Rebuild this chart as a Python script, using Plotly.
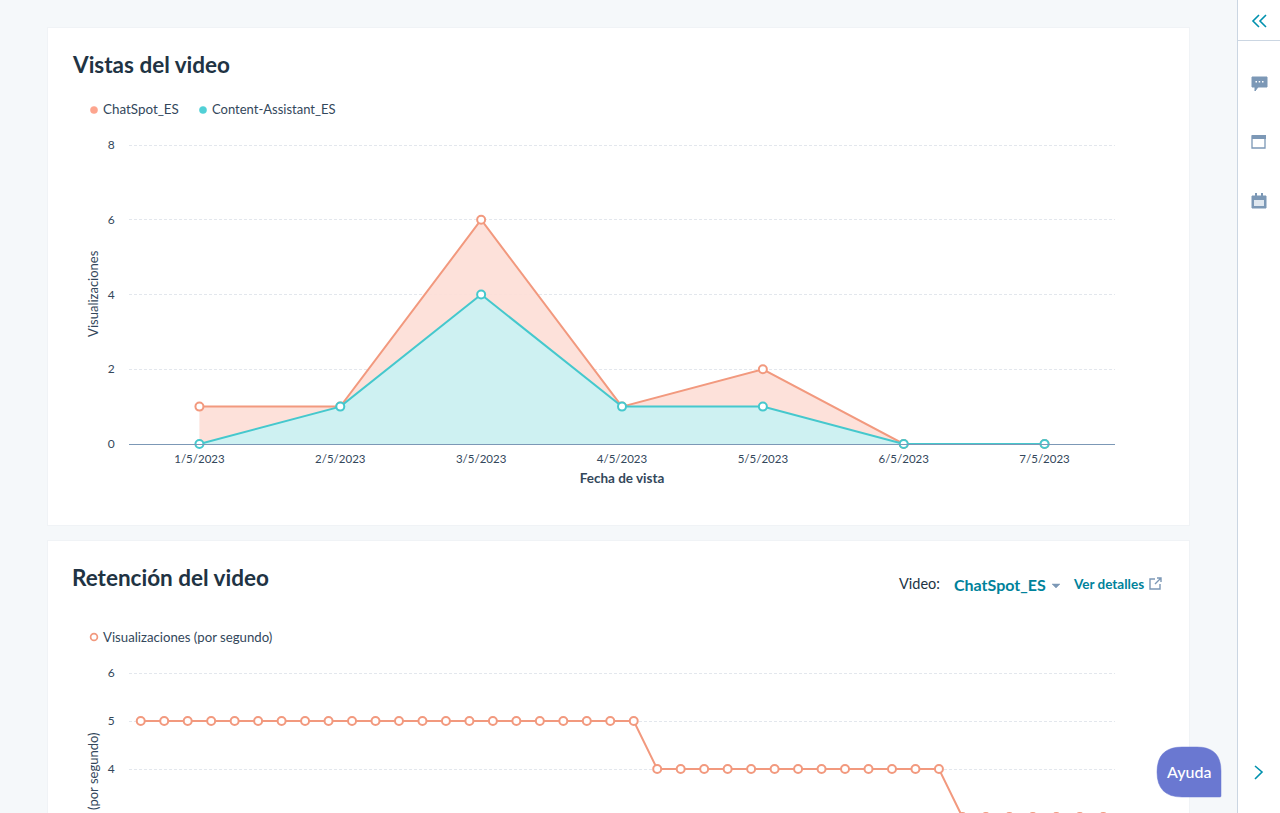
"""Panel de vistas y retencion del video."""

import plotly.graph_objects as go

# Datos de "Vistas del video"
FECHAS = ["1/5/2023", "2/5/2023", "3/5/2023", "4/5/2023", "5/5/2023", "6/5/2023", "7/5/2023"]
CHATSPOT = [1, 1, 6, 1, 2, 0, 0]
CONTENT = [0, 1, 4, 1, 1, 0, 0]
Y_TICKS_VISTAS = [0, 2, 4, 6, 8]

# Datos de "Retencion del video" (la ventana corta el resto del grafico)
SEGUNDOS = [
    "0", "1", "2", "3", "4", "5", "6", "7", "8", "9", "10", "11", "12", "13",
    "14", "15", "16", "17", "18", "19", "20", "21", "22", "23", "24", "25", "26", "27",
    "28", "29", "30", "31", "32", "33", "34", "35", "36", "37", "38", "39", "40", "41",
]
RETENCION = [
    5, 5, 5, 5, 5, 5, 5, 5, 5, 5, 5, 5, 5, 5,
    5, 5, 5, 5, 5, 5, 5, 5, 4, 4, 4, 4, 4, 4,
    4, 4, 4, 4, 4, 4, 4, 3, 3, 3, 3, 3, 3, 3,
]
Y_TICKS_RETENCION = [0, 1, 2, 3, 4, 5, 6]

W = 1280
H = 1010
FONT = "Lato"
INK = "#33475b"
TITLE_INK = "#213343"
SALMON = "#f2997e"
TEAL = "#45c8cd"
LINK = "#00829b"
ICON = "#7c98b6"


def px(x):
    return x / W


def py(y):
    return 1 - y / H


def path(*cmds):
    # Cada comando: (letra, x, y, ...) en pixeles de la pagina
    out = []
    for c in cmds:
        vals = c[1:]
        pares = [f"{px(vals[i])},{py(vals[i + 1])}" for i in range(0, len(vals), 2)]
        out.append(c[0] + " ".join(pares))
    return " ".join(out)


def rect(x0, y0, x1, y1, fill, line=None, layer="below"):
    return dict(
        type="rect", xref="paper", yref="paper", layer=layer,
        x0=px(x0), x1=px(x1), y0=py(y0), y1=py(y1),
        fillcolor=fill, line=dict(color=line or fill, width=1 if line else 0),
    )


def trazo(d, color, width=1.6, fill=None, layer="above"):
    return dict(
        type="path", xref="paper", yref="paper", layer=layer, path=d,
        line=dict(color=color, width=width), fillcolor=fill or "rgba(0,0,0,0)",
    )


def circulo(cx, cy, r, fill, line, width=1.5):
    return dict(
        type="circle", xref="paper", yref="paper", layer="above",
        x0=px(cx - r), x1=px(cx + r), y0=py(cy - r), y1=py(cy + r),
        fillcolor=fill, line=dict(color=line, width=width),
    )


def texto(x, y, s, size=12, color=INK, weight=400, anchor="left", family=FONT):
    return dict(
        xref="paper", yref="paper", x=px(x), y=py(y), text=s, showarrow=False,
        xanchor=anchor, yanchor="middle", borderpad=0, borderwidth=0,
        font=dict(family=family, size=size, color=color, weight=weight),
    )


def eje_y(ticks, domain, rng, title, anchor):
    return dict(
        domain=domain, range=rng, tickvals=ticks, anchor=anchor, fixedrange=True,
        automargin=False,
        showgrid=True, gridcolor="#e3e7ed", griddash="3px,2px", gridwidth=1,
        zeroline=False, showline=False,
        ticks="outside", ticklen=11, tickcolor="rgba(0,0,0,0)",
        tickfont=dict(family=FONT, size=12, color=INK),
        title=dict(text=title, standoff=6, font=dict(family=FONT, size=13, color=INK)),
    )


fig = go.Figure()

fig.add_trace(go.Scatter(
    x=FECHAS, y=CHATSPOT, name="ChatSpot_ES", mode="lines+markers", cliponaxis=False,
    line=dict(color=SALMON, width=2), fill="tozeroy", fillcolor="rgba(253,222,214,0.9)",
    marker=dict(size=8, color="white", line=dict(color=SALMON, width=2)),
))
fig.add_trace(go.Scatter(
    x=FECHAS, y=CONTENT, name="Content-Assistant_ES", mode="lines+markers", cliponaxis=False,
    line=dict(color=TEAL, width=2), fill="tozeroy", fillcolor="rgba(203,241,243,0.95)",
    marker=dict(size=8, color="white", line=dict(color=TEAL, width=2)),
))
fig.add_trace(go.Scatter(
    x=SEGUNDOS, y=RETENCION, name="Visualizaciones (por segundo)", mode="lines+markers",
    xaxis="x2", yaxis="y2", cliponaxis=False,
    line=dict(color=SALMON, width=2),
    marker=dict(size=8, color="white", line=dict(color=SALMON, width=2)),
))

shapes = [
    # fondo, tarjetas y barra lateral
    rect(0, 0, W, H, "#f5f8fa"),
    rect(47, 27, 1190, 526, "#f0f3f6"),
    rect(48, 28, 1189, 525, "#ffffff"),
    rect(47, 540, 1190, H, "#f0f3f6"),
    rect(48, 541, 1189, H, "#ffffff"),
    rect(1238, 0, W, H, "#ffffff"),
    rect(1237, 0, 1238, H, "#cbd6e2"),
    rect(1238, 40, W, 41, "#cbd6e2"),
    # leyendas
    circulo(94, 110, 3.6, "#fda58e", "#fda58e", 0.5),
    circulo(203, 110, 3.6, "#51d0d6", "#51d0d6", 0.5),
    circulo(94, 637, 3.4, "white", SALMON, 1.7),
    # iconos de la barra lateral
    trazo(path(("M", 1259, 15), ("L", 1253, 21), ("L", 1259, 27), ("M", 1266, 15), ("L", 1260, 21), ("L", 1266, 27)), "#0091ae"),
    trazo(path(("M", 1252, 77), ("L", 1267, 77), ("L", 1267, 87), ("L", 1258, 87), ("L", 1255, 91), ("L", 1255, 87), ("L", 1252, 87)) + " Z", ICON, 1, ICON),
    rect(1255.5, 81, 1257, 82.5, "#ffffff", layer="above"),
    rect(1258.7, 81, 1260.2, 82.5, "#ffffff", layer="above"),
    rect(1262, 81, 1263.5, 82.5, "#ffffff", layer="above"),
    trazo(path(("M", 1252, 136), ("L", 1265, 136), ("L", 1265, 148), ("L", 1252, 148)) + " Z", ICON, 1.3),
    rect(1252, 135, 1266, 139, ICON, layer="above"),
    trazo(path(("M", 1252, 196), ("L", 1266, 196), ("L", 1266, 208), ("L", 1252, 208)) + " Z", ICON, 1, ICON),
    rect(1255, 193, 1257, 197, ICON, layer="above"),
    rect(1261, 193, 1263, 197, ICON, layer="above"),
    rect(1254, 200, 1264, 206, "#dfe7ef", layer="above"),
    # controles de retencion
    trazo(path(("M", 1052, 584), ("L", 1060, 584), ("L", 1056, 588)) + " Z", ICON, 0.5, ICON),
    trazo(path(("M", 1155, 579), ("L", 1150, 579), ("L", 1150, 589), ("L", 1160, 589), ("L", 1160, 584)), ICON, 1.4),
    trazo(path(("M", 1155, 584), ("L", 1161, 578), ("M", 1157, 578), ("L", 1161, 578), ("L", 1161, 582)), ICON, 1.4),
    # boton de ayuda
    trazo(path(
        ("M", 1157, 772), ("Q", 1157, 747, 1182, 747), ("L", 1197, 747), ("Q", 1221, 747, 1221, 771),
        ("L", 1221, 796), ("Q", 1221, 797, 1220, 797), ("L", 1182, 797), ("Q", 1157, 797, 1157, 772),
    ) + " Z", "#6a78d1", 0.5, "#6a78d1"),
    trazo(path(("M", 1255, 766), ("L", 1262, 772), ("L", 1255, 779)), "#0091ae"),
]

annotations = [
    texto(72, 64, "Vistas del video", 22.5, TITLE_INK, 700),
    texto(103, 109, "ChatSpot_ES", 13.4),
    texto(212, 109, "Content-Assistant_ES", 13),
    texto(72, 577, "Retención del video", 22.5, TITLE_INK, 700),
    texto(899, 583.5, "Video:", 14.5, TITLE_INK),
    texto(954, 584, "ChatSpot_ES", 16, LINK, 700),
    texto(1073, 584, "Ver detalles", 13.5, LINK, 700),
    texto(103, 637, "Visualizaciones (por segundo)", 13.2),
    texto(1189, 771.5, "Ayuda", 16, "#ffffff", 500, "center"),
]

fig.update_layout(
    width=W,
    height=H,
    margin=dict(l=0, r=0, t=0, b=0),
    autosize=False,
    showlegend=False,
    paper_bgcolor="#f5f8fa",
    plot_bgcolor="rgba(0,0,0,0)",
    font=dict(family=FONT, color=INK),
    shapes=shapes,
    annotations=annotations,
    xaxis=dict(
        domain=[px(129), px(1115)], anchor="y", type="category", range=[-0.5, 6.5],
        categoryorder="array", categoryarray=FECHAS, fixedrange=True, automargin=False,
        showgrid=False, zeroline=False, showline=True, linecolor=ICON, linewidth=1,
        ticks="outside", ticklen=4, tickcolor="rgba(0,0,0,0)",
        tickfont=dict(family=FONT, size=11.5, color=INK),
        title=dict(text="<b>Fecha de vista</b>", standoff=9, font=dict(family=FONT, size=13.5, color=INK)),
    ),
    # el rango llega un poco por encima del ultimo tick para que se dibuje su rejilla
    yaxis=eje_y(Y_TICKS_VISTAS, [py(444), py(143.5)], [0, 8.04], "Visualizaciones", "x"),
    xaxis2=dict(
        domain=[px(129), px(1115)], anchor="y2", type="category", range=[-0.5, 41.5],
        categoryorder="array", categoryarray=SEGUNDOS, fixedrange=True, automargin=False,
        showgrid=False, zeroline=False, showline=True, linecolor=ICON, linewidth=1,
        showticklabels=False, ticks="",
    ),
    yaxis2=eje_y(Y_TICKS_RETENCION, [py(961), py(671.08)], [0, 6.04], "Visualizaciones (por segundo)", "x2"),
)

fig.write_html(
    "out.html",
    config={"displayModeBar": False},
    post_script="document.body.style.margin='0';document.documentElement.style.overflow='hidden';document.body.style.overflow='hidden';",
)
